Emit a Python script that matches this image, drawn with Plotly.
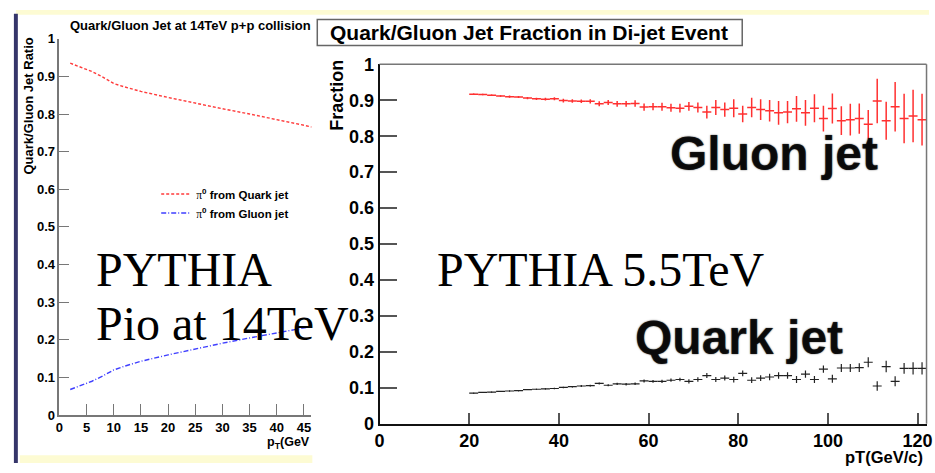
import plotly.graph_objects as go

W, H = 935, 473

# ---- left panel: pi0 origin at 14 TeV p+p (PYTHIA) ----
pt_14 = [2, 4, 6, 8, 10, 12, 15, 20, 25, 30, 35, 40, 45, 50]
quark_14 = [0.935, 0.925, 0.913, 0.898, 0.881, 0.872, 0.860, 0.844, 0.828,
            0.814, 0.800, 0.785, 0.769, 0.755]
gluon_14 = [0.068, 0.078, 0.090, 0.104, 0.120, 0.130, 0.143, 0.160, 0.176,
            0.191, 0.205, 0.219, 0.232, 0.245]
left_xticks = [0, 5, 10, 15, 20, 25, 30, 35, 40, 45]
frac_ticks = [0, 0.1, 0.2, 0.3, 0.4, 0.5, 0.6, 0.7, 0.8, 0.9, 1]
frac_labels = ["0", "0.1", "0.2", "0.3", "0.4", "0.5", "0.6", "0.7", "0.8", "0.9", "1"]

# ---- right panel: di-jet quark/gluon fraction at 5.5 TeV, 2 GeV/c bins 20-122 ----
pt_bins = list(range(21, 122, 2))
bin_half = 1.0
gluon_55 = [0.917, 0.916, 0.914, 0.912, 0.910, 0.909, 0.906, 0.904, 0.903, 0.904,
            0.899, 0.898, 0.897, 0.897, 0.890, 0.894, 0.890, 0.890, 0.891, 0.881,
            0.882, 0.882, 0.879, 0.878, 0.883, 0.880, 0.867, 0.880, 0.874, 0.878,
            0.862, 0.880, 0.874, 0.871, 0.865, 0.867, 0.876, 0.865, 0.878, 0.849,
            0.877, 0.843, 0.846, 0.849, 0.833, 0.898, 0.843, 0.882, 0.849, 0.856,
            0.846]
gluon_55_err = [0.002, 0.002, 0.002, 0.002, 0.003, 0.003, 0.003, 0.003, 0.004, 0.004,
                0.005, 0.005, 0.005, 0.006, 0.007, 0.007, 0.008, 0.008, 0.009, 0.010,
                0.010, 0.011, 0.011, 0.012, 0.012, 0.014, 0.018, 0.021, 0.020, 0.025,
                0.023, 0.027, 0.029, 0.030, 0.033, 0.031, 0.036, 0.036, 0.039, 0.036,
                0.042, 0.040, 0.044, 0.042, 0.040, 0.062, 0.053, 0.069, 0.069, 0.073,
                0.072]
quark_55 = [0.085, 0.087, 0.088, 0.090, 0.091, 0.092, 0.095, 0.096, 0.097, 0.098,
            0.101, 0.103, 0.105, 0.106, 0.112, 0.107, 0.111, 0.110, 0.111, 0.119,
            0.118, 0.118, 0.121, 0.123, 0.118, 0.123, 0.134, 0.123, 0.127, 0.123,
            0.140, 0.121, 0.127, 0.130, 0.134, 0.134, 0.123, 0.138, 0.123, 0.152,
            0.125, 0.155, 0.155, 0.156, 0.171, 0.105, 0.159, 0.118, 0.154, 0.154,
            0.154]
quark_55_err = [0.001, 0.001, 0.001, 0.001, 0.0015, 0.0015, 0.0015, 0.0015, 0.002, 0.002,
                0.002, 0.002, 0.0025, 0.0025, 0.003, 0.003, 0.003, 0.0035, 0.0035, 0.004,
                0.004, 0.0045, 0.0045, 0.005, 0.006, 0.006, 0.007, 0.007, 0.007, 0.008,
                0.008, 0.008, 0.008, 0.009, 0.009, 0.009, 0.010, 0.010, 0.010, 0.010,
                0.011, 0.011, 0.011, 0.012, 0.014, 0.013, 0.016, 0.014, 0.015, 0.017,
                0.017]
right_xticks = [0, 20, 40, 60, 80, 100, 120]


def px(x):
    return x / W


def py(y):
    return 1 - y / H


SANS = "Liberation Sans"
SERIF = "Liberation Serif"
PI = "<span style='font-family:Liberation Serif;font-weight:normal'>π</span><sup>0</sup>"

fig = go.Figure()

fig.add_trace(go.Scatter(
    x=pt_14, y=quark_14, mode="lines", name=PI + " from Quark jet",
    line=dict(color="#ff3b3b", width=1.4, dash="3px,2px"),
    xaxis="x", yaxis="y"))
fig.add_trace(go.Scatter(
    x=pt_14, y=gluon_14, mode="lines", name=PI + " from Gluon jet",
    line=dict(color="#3f3fff", width=1.4, dash="5px,2px,1px,2px"),
    xaxis="x", yaxis="y"))

fig.add_trace(go.Scatter(
    x=pt_bins, y=gluon_55, mode="markers", showlegend=False,
    marker=dict(size=1, color="#ff3030"),
    error_x=dict(type="constant", value=bin_half, width=0, thickness=1.5, color="#ff3030"),
    error_y=dict(type="data", array=gluon_55_err, width=0, thickness=1.5, color="#ff3030"),
    xaxis="x2", yaxis="y2"))
fig.add_trace(go.Scatter(
    x=pt_bins, y=quark_55, mode="markers", showlegend=False,
    marker=dict(size=1, color="#222222"),
    error_x=dict(type="constant", value=bin_half, width=0, thickness=1.2, color="#222222"),
    error_y=dict(type="data", array=quark_55_err, width=0, thickness=1.2, color="#222222"),
    xaxis="x2", yaxis="y2"))

axis_common = dict(showgrid=False, zeroline=False, showline=True, ticks="inside",
                   ticklabeloverflow="allow")

fig.update_layout(
    width=W, height=H, autosize=False,
    margin=dict(l=0, r=0, t=0, b=0),
    paper_bgcolor="white", plot_bgcolor="rgba(0,0,0,0)",
    font=dict(family=SANS, color="black"),
    xaxis=dict(axis_common, domain=[px(55), px(310)], range=[0, 46.36], anchor="y",
               tickvals=left_xticks, ticklen=11, tickwidth=1.2, tickcolor="#777",
               linecolor="#777", linewidth=1.5,
               tickfont=dict(size=13, weight="bold", family=SANS)),
    yaxis=dict(axis_common, domain=[py(423), py(30)], range=[0, 1], anchor="x",
               tickvals=frac_ticks, ticktext=frac_labels, ticklen=10, tickwidth=1.2,
               tickcolor="#777", linecolor="#777", linewidth=1.5,
               tickfont=dict(size=13, weight="bold", family=SANS)),
    xaxis2=dict(axis_common, domain=[px(379), px(932.5)], range=[0, 122], anchor="y2",
                tickvals=right_xticks, ticklen=11, tickwidth=2, tickcolor="#555",
                linecolor="#111", linewidth=2,
                tickfont=dict(size=18, weight="bold", family=SANS)),
    yaxis2=dict(axis_common, domain=[py(432), py(56.7)], range=[0, 1], anchor="x2",
                tickvals=frac_ticks, ticktext=frac_labels, ticklen=17, tickwidth=2,
                tickcolor="#555", linecolor="#111", linewidth=2,
                tickfont=dict(size=18, weight="bold", family=SANS)),
    showlegend=True,
    legend=dict(x=px(153), y=py(177), xanchor="left", yanchor="top",
                bgcolor="rgba(0,0,0,0)", borderwidth=0,
                font=dict(size=11.5, weight="bold", family=SANS, color="black")),
)

shapes = [
    # slide decoration: yellow strips and dark side bar
    dict(type="rect", xref="paper", yref="paper", x0=px(11), x1=1, y0=py(5), y1=1,
         fillcolor="#fdfbd3", line=dict(width=0), layer="below"),
    dict(type="rect", xref="paper", yref="paper", x0=px(15), x1=px(311), y0=0, y1=py(465),
         fillcolor="#fdfbd3", line=dict(width=0), layer="below"),
    dict(type="rect", xref="paper", yref="paper", x0=px(9), x1=px(13), y0=0, y1=py(4),
         fillcolor="#35356a", line=dict(width=0), layer="below"),
    # right frame: top and right edges
    dict(type="line", xref="x2 domain", yref="y2 domain", x0=0, x1=1, y0=1, y1=1,
         line=dict(color="#777", width=1.5)),
    dict(type="line", xref="x2 domain", yref="y2 domain", x0=1, x1=1, y0=0, y1=1,
         line=dict(color="#777", width=1.5)),
    # title box of the right panel
    dict(type="rect", xref="paper", yref="paper", x0=px(316), x1=px(746), y0=py(37), y1=py(10),
         fillcolor="white", line=dict(color="#666", width=1.5)),
]
fig.update_layout(shapes=shapes)

blur = "0 0 1.5px rgba(0,0,0,0.9)"
ann = [
    dict(text="Quark/Gluon Jet at 14TeV p+p collision", x=px(64), y=py(16.5),
         xanchor="left", yanchor="middle",
         font=dict(size=13, weight="bold", family=SANS)),
    dict(text="Quark/Gluon Jet Ratio", x=px(24), y=py(100), textangle=-90,
         xanchor="center", yanchor="middle",
         font=dict(size=13, weight="bold", family=SANS)),
    dict(text="p<sub>T</sub>(GeV", x=px(311), y=py(452), xanchor="right", yanchor="middle",
         font=dict(size=12.5, weight="bold", family=SANS)),
    dict(text="Quark/Gluon Jet Fraction in Di-jet Event", x=px(530), y=py(23.7),
         xanchor="center", yanchor="middle",
         font=dict(size=21, weight="bold", family=SANS)),
    dict(text="Fraction", x=px(336), y=py(89.5), textangle=-90,
         xanchor="center", yanchor="middle",
         font=dict(size=18, weight="bold", family=SANS)),
    dict(text="pT(GeV/c)", x=px(931), y=py(466.5), xanchor="right", yanchor="middle",
         font=dict(size=16.5, weight="bold", family=SANS)),
    dict(text="Gluon jet", x=px(671), y=py(149.5), xanchor="left", yanchor="middle",
         font=dict(size=48, weight="bold", family=SANS, color="rgba(0,0,0,0.85)", shadow=blur)),
    dict(text="Quark jet", x=px(635), y=py(341.5), xanchor="left", yanchor="middle",
         font=dict(size=48, weight="bold", family=SANS, color="rgba(0,0,0,0.85)", shadow=blur)),
    dict(text="PYTHIA", x=px(90), y=py(270.5), xanchor="left", yanchor="middle",
         font=dict(size=48, family=SERIF)),
    dict(text="Pio at 14TeV", x=px(90), y=py(327), xanchor="left", yanchor="middle",
         font=dict(size=48, family=SERIF)),
    dict(text="PYTHIA 5.5TeV", x=px(435), y=py(270.5), xanchor="left", yanchor="middle",
         font=dict(size=48, family=SERIF)),
]
for a in ann:
    a.update(xref="paper", yref="paper", showarrow=False)
fig.update_layout(annotations=ann)

fig.write_html("out.html")
